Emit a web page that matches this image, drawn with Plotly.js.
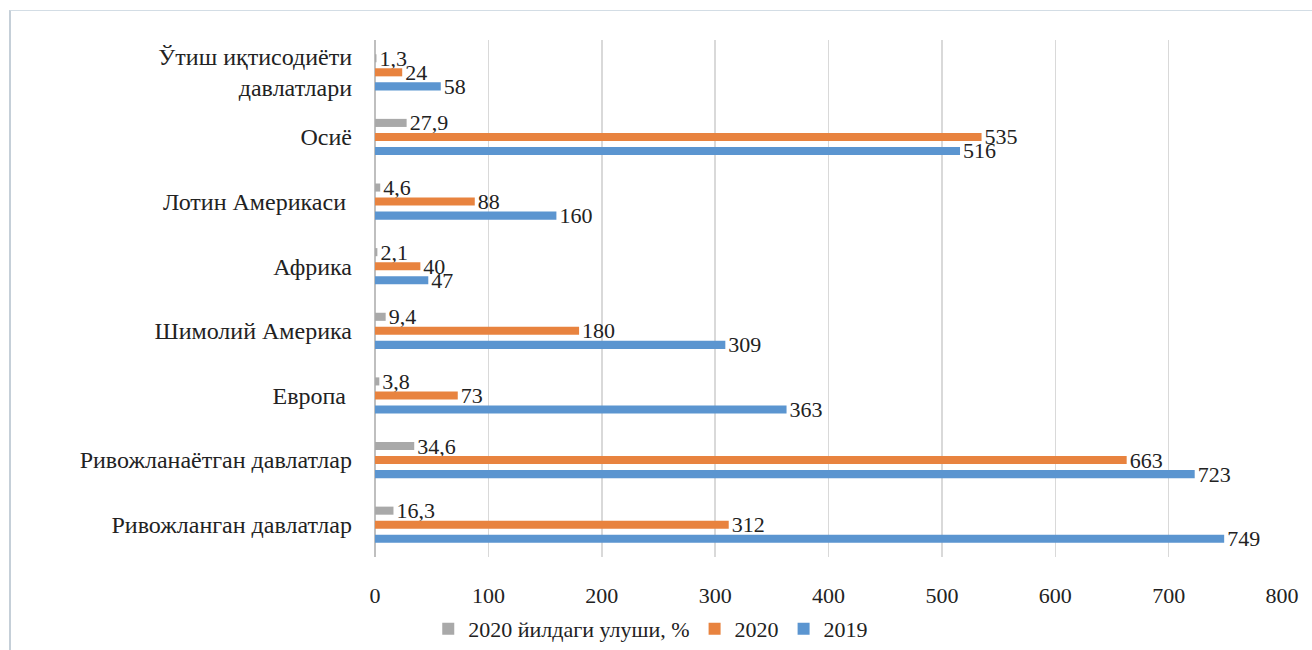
<!DOCTYPE html>
<html>
<head>
<meta charset="utf-8">
<script src="https://cdn.plot.ly/plotly-3.0.1.min.js"></script>
<style>
html,body{margin:0;padding:0;background:#fff;}
#chart{width:1312px;height:650px;position:absolute;left:0;top:0;}
#frame{position:absolute;left:9px;top:10px;width:1303px;height:640px;border-left:2px solid #c5cfd8;border-top:1px solid #d3dde5;pointer-events:none;box-sizing:border-box;}
</style>
</head>
<body>
<div id="chart"></div>
<div id="frame"></div>
<script>
// Categories (top to bottom)
const categories = [
  "Ўтиш иқтисодиёти<br>давлатлари",
  "Осиё",
  "Лотин Америкаси ",
  "Африка",
  "Шимолий Америка",
  "Европа ",
  "Ривожланаётган давлатлар",
  "Ривожланган давлатлар"
];
const share2020 = [1.3, 27.9, 4.6, 2.1, 9.4, 3.8, 34.6, 16.3];
const values2020 = [24, 535, 88, 40, 180, 73, 663, 312];
const values2019 = [58, 516, 160, 47, 309, 363, 723, 749];
const seriesNames = ["2020 йилдаги улуши, %", "2020", "2019"];

const SERIF = "Liberation Serif";
const fmt = v => String(v).replace(".", ",");
const labelFont = {family: SERIF, size: 22, color: "#222"};
const W = 0.125;

function mk(name, vals, color, center) {
  return {
    type: "bar", orientation: "h", name: name,
    y: categories, x: vals,
    width: W, offset: center - W / 2,
    marker: {color: color},
    text: vals.map(fmt), textposition: "outside",
    constraintext: "none", cliponaxis: false,
    textfont: labelFont,
    hoverinfo: "x+y"
  };
}

const data = [
  mk(seriesNames[0], share2020, "#a9a9a9", -0.217),
  mk(seriesNames[1], values2020, "#e8833f", 0),
  mk(seriesNames[2], values2019, "#5b95d0", 0.217)
];

const layout = {
  width: 1312, height: 650,
  margin: {l: 375, r: 30, t: 40, b: 93, autoexpand: false},
  font: {family: SERIF},
  paper_bgcolor: "#ffffff", plot_bgcolor: "#ffffff",
  barmode: "group",
  showlegend: true,
  legend: {
    orientation: "h", x: 0.496, xanchor: "center", xref: "container",
    y: 0.0, yanchor: "bottom", yref: "container",
    font: {family: SERIF, size: 22, color: "#222"},
    traceorder: "normal", itemwidth: 30
  },
  xaxis: {
    range: [0, 800], dtick: 100, tick0: 0, automargin: false,
    showgrid: true, gridcolor: "#d9d9d9", gridwidth: 1.5,
    zeroline: true, zerolinecolor: "#bfbfbf", zerolinewidth: 1.5,
    showline: false, ticks: "",
    ticklabelstandoff: 23,
    tickfont: {family: SERIF, size: 22, color: "#222"},
    fixedrange: true
  },
  yaxis: {
    type: "category", autorange: "reversed", automargin: false,
    showgrid: false, zeroline: false, showline: false, ticks: "",
    ticklabelstandoff: 22,
    tickfont: {family: SERIF, size: 24, color: "#222"},
    fixedrange: true
  }
};

Plotly.newPlot("chart", data, layout, {displayModeBar: false, staticPlot: true});
</script>
</body>
</html>
